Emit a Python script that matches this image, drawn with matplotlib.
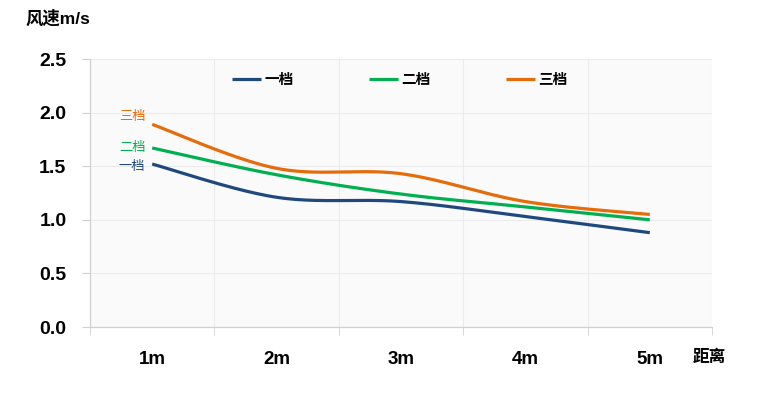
import matplotlib
matplotlib.use("Agg")
import matplotlib.pyplot as plt
import numpy as np
from matplotlib.ticker import FixedLocator, NullFormatter

plt.rcParams['font.family'] = ['Liberation Sans', 'Noto Sans CJK SC', 'DejaVu Sans']

categories = ['1m', '2m', '3m', '4m', '5m']
series_names = ['一档', '二档', '三档']
gear1 = [1.52, 1.21, 1.17, 1.03, 0.88]
gear2 = [1.67, 1.42, 1.24, 1.12, 1.00]
gear3 = [1.89, 1.48, 1.43, 1.17, 1.05]
colors = ['#1f497d', '#00b050', '#e46c0a']
yticks = [0.0, 0.5, 1.0, 1.5, 2.0, 2.5]


def smooth(xs, ys, n=40):
    pts = np.column_stack([xs, ys]).astype(float)
    out = []
    m = len(pts)
    for i in range(m - 1):
        p0 = pts[i - 1] if i > 0 else pts[i]
        p1 = pts[i]
        p2 = pts[i + 1]
        p3 = pts[i + 2] if i + 2 < m else pts[i + 1]
        c1 = p1 + (p2 - p0) / 6.0
        c2 = p2 - (p3 - p1) / 6.0
        t = np.linspace(0, 1, n)[:, None]
        seg = ((1 - t) ** 3) * p1 + 3 * ((1 - t) ** 2) * t * c1 + 3 * (1 - t) * t ** 2 * c2 + t ** 3 * p2
        if i > 0:
            seg = seg[1:]
        out.append(seg)
    out = np.vstack(out)
    return out[:, 0], out[:, 1]


fig = plt.figure(figsize=(7.59, 3.95), dpi=100)
ax = fig.add_axes([90 / 759, 1 - 327 / 395, 622 / 759, 268 / 395])
ax.set_facecolor('#fafafa')

x = np.arange(1, len(categories) + 1)
all_series = [gear1, gear2, gear3]
for vals, name, c in zip(all_series, series_names, colors):
    sx, sy = smooth(x, vals)
    ax.plot(sx, sy, color=c, lw=2.3, label=name, solid_capstyle='butt')

# left-side labels
offsets = [-2, 0, 5]
for vals, name, c, dy in zip(all_series, series_names, colors, offsets):
    ax.annotate(name, xy=(x[0], vals[0]), xytext=(-5, dy), textcoords='offset points',
                ha='right', va='center', color=c, fontsize=9.5)

ax.set_xlim(0.5, len(categories) + 0.5)
ax.set_ylim(0, 2.5)

ax.yaxis.set_major_locator(FixedLocator(yticks))
ax.set_yticklabels([f'{v:.1f}' for v in yticks], fontsize=14, fontweight='bold')
ax.tick_params(axis='y', length=6, color='#d0d0d0', pad=11)

ax.set_xticks(x)
ax.set_xticklabels(categories, fontsize=13.5, fontweight='bold')
ax.tick_params(axis='x', which='major', length=0, pad=17)
bounds = np.arange(0.5, len(categories) + 1, 1.0)
ax.xaxis.set_minor_locator(FixedLocator(bounds))
ax.xaxis.set_minor_formatter(NullFormatter())
ax.tick_params(axis='x', which='minor', length=6, color='#d0d0d0')

ax.grid(axis='y', which='major', color='#ebebeb', lw=0.8)
for b in bounds[1:]:
    ax.axvline(b, color='#ebebeb', lw=0.8, zorder=0)
ax.set_axisbelow(True)

for s in ['top', 'right']:
    ax.spines[s].set_visible(False)
for s in ['left', 'bottom']:
    ax.spines[s].set_color('#d0d0d0')
    ax.spines[s].set_linewidth(0.9)

leg = ax.legend(loc='center', bbox_to_anchor=(0.498, 0.92), ncol=3, frameon=False,
                handlelength=2.0, handletextpad=0.2, columnspacing=5.2,
                prop={'size': 10.5, 'weight': 'bold'})

fig.text(25 / 759, 1 - 18 / 395, '风速m/s', fontsize=12.5, fontweight='bold', ha='left', va='center')
fig.text(693 / 759, 1 - 357 / 395, '距离', fontsize=12, fontweight='bold', ha='left', va='center')

fig.savefig('out.png', dpi=100, facecolor='white')
